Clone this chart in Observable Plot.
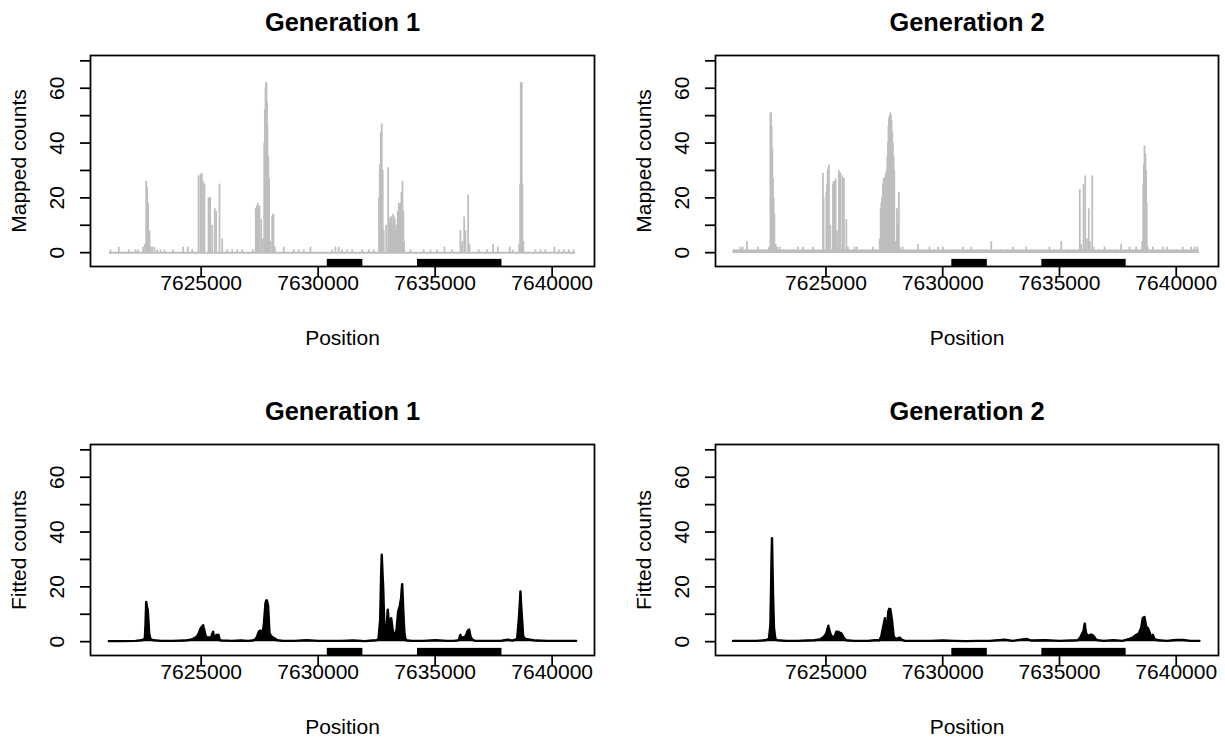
<!DOCTYPE html>
<html><head><meta charset="utf-8">
<script src="https://cdn.jsdelivr.net/npm/d3@7"></script>
<script src="https://cdn.jsdelivr.net/npm/@observablehq/plot@0.6"></script>
<style>
body{margin:0;background:#fff;}
#fig{position:relative;width:1225px;height:745px;background:#fff;}
.panel{position:absolute;}
</style></head><body><div id="fig"></div>
<script>
// ---- axes / annotation data ----
const xTicks = [7625000, 7630000, 7635000, 7640000];
const yTicks = [0, 10, 20, 30, 40, 50, 60, 70];
const yTickLabels = [0, 20, 40, 60];
const geneStart = [7630390, 7634245];
const geneEnd = [7631910, 7637855];
const panelTitles = ["Generation 1", "Generation 2", "Generation 1", "Generation 2"];
const yLabels = ["Mapped counts", "Mapped counts", "Fitted counts", "Fitted counts"];
const xLabel = "Position";

// ---- Generation 1, mapped counts ----
const g1MappedPos = [7621124,7621479,7621906,7622192,7622291,7622521,7622590,7622650,7622692,7622735,7622791,7622833,7622906,7623004,7623120,7623261,7623432,7623803,7624231,7624427,7624615,
7624885,7624970,7625026,7625085,7625141,7625312,7625345,7625385,7625470,7625581,7625641,7625782,7625897,7626111,7626325,7626538,7626752,7627205,
7627333,7627376,7627419,7627455,7627491,7627564,7627632,7627692,7627720,7627748,7627770,7627791,7627812,7627833,7627870,7627906,7627962,7628034,7628060,7628090,7628145,
7628530,7628957,7629171,7629385,7629671,7630598,7630739,7630880,7631026,7631239,7631453,7631880,7632162,7632376,
7632600,7632632,7632675,7632718,7632760,7632803,7632906,7632991,7633047,7633085,7633120,7633160,7633205,7633240,7633274,7633320,7633359,7633400,7633444,7633480,7633517,7633560,7633603,7633640,7633675,
7633944,7634513,7634799,7635085,7635397,7635726,7636081,7636154,7636239,7636295,7636410,7636466,7636863,7637222,7637479,7637675,7638188,7638316,
7638590,7638632,7638658,7638680,7638701,7638731,7638773,7639286,7639500,7639714,7640098,7640282,7640496,7640710,7640923];
const g1MappedCount = [1,2,1,1,1,2,3,26,24,18,8,2,2,2,1,1,1,1,2,2,1,
28,28.5,29,26,25,20,20,20,10,16,15,25,5,1,1,1,1,1,
16,17,18,17,17,12,5,40,52,60,62,62,55,47,35,27,4,13,14,14,2,
2,1,1,1,2,1,2,2,1,1,1,1,1,1,
20,32,44,47,30,8,10,31,12,13,13,10,14,13,12,8,10,15,18,17,18,22,26,15,4,
1,1,1,1,2,1,8,4,13,8,21,3,1,1,3,2,2,1,
3,25,62,62,62,25,4,1,1,1,2,1,1,1,1];
const g1MappedRange = [7621081, 7641009];

// ---- Generation 2, mapped counts ----
const g2MappedPos = [7621060,7621190,7621330,7621430,7621620,7621780,7621950,7622090,7622300,7622450,7622560,7622620,7622650,7622676,7622705,7622732,7622760,7622791,7622847,7622900,
7623018,7623160,7623300,7623580,7623802,7624016,7624230,7624444,7624660,
7624872,7624900,7625017,7625045,7625073,7625100,7625128,7625190,7625300,7625330,7625360,7625415,7625470,7625556,7625585,7625616,7625702,7625735,7625770,7625873,7625940,
7626228,7626330,7626580,7626800,7627012,7627160,
7627300,7627341,7627370,7627397,7627435,7627470,7627505,7627542,7627570,7627598,7627625,7627654,7627675,7627697,7627727,7627756,7627785,7627812,7627840,7627868,7627900,7627928,7627980,7628039,7628080,7628124,7628160,
7628280,7628580,7628938,7629150,7629438,7629650,7629800,7630008,7630200,7630450,7630640,7630864,7631050,7631223,7631450,7631650,7631850,7632079,7632300,7632500,7632750,7633004,7633250,7633577,7633800,7634050,7634300,7634574,7634800,7635075,7635350,7635600,
7635871,7635930,7636030,7636103,7636180,7636256,7636300,7636402,7636460,
7636700,7636928,7637150,7637400,7637643,7637850,7638000,7638150,7638285,7638450,
7638542,7638584,7638612,7638640,7638683,7638710,7638739,7638780,
7638996,7639200,7639424,7639600,7639850,7640050,7640280,7640450,7640639,7640780,7640900];
const g2MappedCount = [1,1,2,2,4,1,1,2,1,1,2,51,51,46,38,27,20,14,3,2,
2,1,1,1,2,2,1,2,1,
29,20,22,25,30,31,32,10,25,26,26,27,8,30,29,29,28,27,27,12,2,
2,2,1,1,2,1,
5,16,18,20,25,27,27,28,29,30,35,40,46,49,50,51,50,48,44,40,35,30,4,16,10,22,2,
2,1,3,1,2,1,2,2,1,1,1,2,1,2,1,1,1,4,1,1,1,2,1,2,1,1,1,2,1,4,1,1,
23,3,25,28,5,16,4,28,2,
1,2,1,1,3,1,2,1,2,1,
4,25,32,39,36,30,18,2,
2,1,2,2,1,1,2,1,2,2,2];
const g2MappedRange = [7621020, 7640994];

// ---- Generation 1, fitted counts ----
const g1FittedPos = [7621051,7621600,7622200,7622450,7622590,7622620,7622650,7622690,7622718,7622778,7622830,7622950,7623300,7623800,7624300,7624600,
7624756,7624830,7624899,7624960,7625000,7625040,7625085,7625110,7625141,7625197,7625260,7625325,7625420,7625480,7625513,7625540,7625568,7625610,7625654,7625700,7625739,7625795,
7625900,7626300,7626700,7627000,7627200,7627320,7627393,7627462,7627534,7627607,7627676,7627720,7627748,7627780,7627803,7627840,7627863,7627919,7627991,7628077,7628175,7628248,
7628500,7629000,7629500,7630000,7631000,7631500,7632000,7632300,7632500,7632577,7632610,7632650,7632690,7632718,7632750,7632778,7632833,7632889,7632930,7632974,7633000,7633034,7633080,7633120,7633175,7633220,7633261,7633346,7633419,7633487,7633547,7633570,7633590,7633620,7633645,7633688,7633744,
7634000,7634500,7635013,7635500,7635800,7636010,7636060,7636081,7636137,7636197,7636295,7636350,7636393,7636453,7636509,7636581,7636700,7637200,7637800,7638100,7638300,
7638504,7638573,7638620,7638645,7638670,7638701,7638761,7638859,7639000,7639300,7639800,7640500,7641026];
const g1FittedVal = [0.2,0.2,0.3,0.5,1,6,14.5,12.5,11.5,3,1,0.5,0.3,0.3,0.4,0.8,
1.5,2,3,4.5,5.2,5.5,6,5,4,2,1.5,1.5,1.5,3,3.6,2,1,1.5,2.5,2,2.5,0.5,
0.4,0.3,0.4,0.3,0.4,0.8,2,3.6,4.1,2,6,11,14.1,15,15.1,14,13,3,2,1.5,1,0.5,
0.3,0.3,0.5,0.3,0.3,0.4,0.2,0.4,0.5,1,4,8,24,31.7,25,20,4,2,6,11.7,9,6,7,8.6,5,3,2,4,11,13,16,19,21,15,10,3,0.5,
0.3,0.3,0.5,0.3,0.3,0.5,2,2.5,1,1.5,2,3,4,4.4,2,0.8,0.3,0.3,0.3,0.7,0.4,
1,8,14,18.3,14,10,2,1,0.8,0.4,0.3,0.3,0.3];

// ---- Generation 2, fitted counts ----
const g2FittedPos = [7621020,7621500,7622000,7622400,7622560,7622620,7622646,7622669,7622689,7622710,7622732,7622774,7622834,7622933,7623300,7623800,7624200,7624500,
7624730,7624872,7624950,7625017,7625060,7625103,7625150,7625188,7625274,7625372,7625445,7625500,7625556,7625600,7625659,7625758,7625873,
7626200,7626800,7627100,7627298,7627371,7627440,7627490,7627525,7627560,7627598,7627640,7627671,7627715,7627756,7627790,7627825,7627898,7627983,7628154,7628240,7628368,
7629000,7629500,7630000,7630500,7631000,7631500,7632000,7632649,7633000,7633577,7633800,7634400,7635000,7635500,
7635786,7635888,7635974,7636030,7636060,7636085,7636110,7636145,7636231,7636316,7636402,7636470,7636543,7636642,7636900,7637300,7637700,
7638000,7638140,7638285,7638396,7638499,7638568,7638640,7638713,7638782,7638854,7638927,7638996,7639068,7639210,7639600,7640000,7640300,7640600,7640994];
const g2FittedVal = [0.3,0.3,0.3,0.5,1,6,18,30,37.8,28,18,5,1,0.5,0.3,0.3,0.4,0.5,
0.8,1.5,2.2,3,4.5,5.8,4,3,1.5,2,3.6,3.6,3.5,3.2,3,1.5,0.5,
0.3,0.3,0.5,0.5,2,5,7,8.6,5,4,8,11,12,11.9,10,8,2,1,1.5,0.8,0.3,
0.3,0.3,0.4,0.3,0.2,0.3,0.3,0.7,0.3,1,0.4,0.5,0.3,0.4,
0.5,1.5,3,4,5.5,6.6,4.5,3,2,2.5,2.5,2,1,0.5,0.3,0.5,0.3,
1,1.5,2.5,3,5,8.6,9,5.4,5,3.5,1.5,2.5,1,0.5,0.3,0.6,0.6,0.3,0.3];

// mapped-count floor level (dense 0/1 counts) per generation
const g1MappedFloor = 0;
const g2MappedFloor = 0.5;

// ---- drawing ----
const xDomain = [7620270, 7641810];
const yDomain = [-5.05, 71.95];
const geneTop = -2.45;
const FONT = "'Liberation Sans', Arial, Helvetica, sans-serif";
const genes = geneStart.map((s, i) => ({start: s, end: geneEnd[i]}));

function makePanel(idx, kind, pos, val, extra) {
  const rows = pos.map((p, i) => ({pos: p, val: val[i]}));
  const col = idx % 2, row = Math.floor(idx / 2);
  const width = col === 0 ? 612 : 600;
  const marks = [];
  if (kind === "mapped") {
    marks.push(Plot.ruleY([extra.floor], {y: d => d, x1: extra.range[0], x2: extra.range[1], stroke: "#BEBEBE", strokeWidth: extra.floorWidth}));
    marks.push(Plot.ruleX(rows, {x: "pos", y1: 0, y2: "val", stroke: "#BEBEBE", strokeWidth: 1.75}));
  } else {
    marks.push(Plot.areaY(rows, {x: "pos", y: "val", fill: "black"}));
    marks.push(Plot.line(rows, {x: "pos", y: "val", stroke: "black", strokeWidth: 2.4}));
  }
  marks.push(
    Plot.rect(genes, {x1: "start", x2: "end", y1: yDomain[0], y2: geneTop, fill: "black"}),
    Plot.frame({stroke: "black", strokeWidth: 1.75}),
    Plot.axisX({ticks: xTicks, tickSize: 10, tickFormat: () => "", label: null, strokeWidth: 1.75}),
    Plot.axisY({ticks: yTicks, tickSize: 10, tickFormat: () => "", label: null, strokeWidth: 1.75}),
    Plot.text(xTicks, {x: d => d, text: d => String(d), frameAnchor: "bottom", dy: 17, textAnchor: "middle", lineAnchor: "middle", fontSize: 21, fill: "black"}),
    Plot.text(yTickLabels, {y: d => d, text: d => String(d), frameAnchor: "left", dx: -33, rotate: -90, textAnchor: "middle", lineAnchor: "middle", fontSize: 21, fill: "black"}),
    Plot.text([panelTitles[idx]], {text: d => d, frameAnchor: "top", dy: -33, textAnchor: "middle", lineAnchor: "middle", fontSize: 25.4, fontWeight: "bold", fill: "black"}),
    Plot.text([yLabels[idx]], {text: d => d, frameAnchor: "left", dx: -71, rotate: -90, textAnchor: "middle", lineAnchor: "middle", fontSize: 21, fill: "black"}),
    Plot.text([xLabel], {text: d => d, frameAnchor: "bottom", dy: 72, textAnchor: "middle", lineAnchor: "middle", fontSize: 21, fill: "black"})
  );
  const svg = Plot.plot({
    width, height: 356,
    marginTop: 55, marginBottom: 90, marginLeft: 90, marginRight: col === 0 ? 18 : 7,
    x: {domain: xDomain},
    y: {domain: yDomain},
    style: {fontFamily: FONT, background: "white", color: "black", overflow: "visible"},
    marks
  });
  const div = document.createElement("div");
  div.className = "panel";
  div.style.left = (col === 0 ? 0 : 625) + "px";
  div.style.top = (row === 0 ? 0 : 389) + "px";
  div.appendChild(svg);
  document.getElementById("fig").appendChild(div);
}

makePanel(0, "mapped", g1MappedPos, g1MappedCount, {floor: g1MappedFloor, floorWidth: 2, range: g1MappedRange});
makePanel(1, "mapped", g2MappedPos, g2MappedCount, {floor: g2MappedFloor, floorWidth: 3.5, range: g2MappedRange});
makePanel(2, "fitted", g1FittedPos, g1FittedVal);
makePanel(3, "fitted", g2FittedPos, g2FittedVal);
</script></body></html>
